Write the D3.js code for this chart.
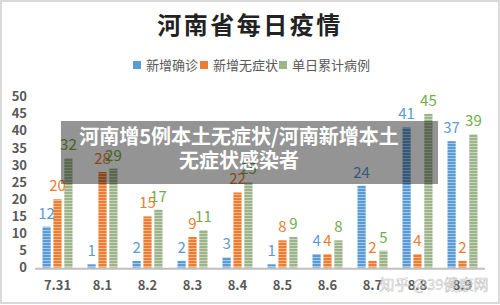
<!DOCTYPE html>
<html>
<head>
<meta charset="utf-8">
<script src="https://cdn.jsdelivr.net/npm/d3@7"></script>
<style>
  body { margin: 0; background: #fff; }
  svg { display: block; font-family: "Noto Sans CJK SC", "Noto Sans", sans-serif; }
</style>
</head>
<body>
<div id="main"></div>
<script>
const categories = ['7.31', '8.1', '8.2', '8.3', '8.4', '8.5', '8.6', '8.7', '8.8', '8.9']
const seriesNames = ['新增确诊', '新增无症状', '单日累计病例']
const newConfirmed = [12, 1, 2, 2, 3, 1, 4, 24, 41, 37]
const newAsymptomatic = [20, 28, 15, 9, 22, 8, 4, 2, 4, 2]
const dailyTotal = [32, 29, 17, 11, 25, 9, 8, 5, 45, 39]
const yTicks = [0, 5, 10, 15, 20, 25, 30, 35, 40, 45, 50]

const ctx = {
    w: 500,
    h: 305,
    barColors: ['#5b9bd5', '#ed7d31', '#9db38a'],
    labelColors: ['#5b9bd5', '#ed7d31', '#70ad47']
}

function createViz() {
    let svg = d3.select('#main').append('svg')
        .attr('width', ctx.w)
        .attr('height', ctx.h)

    // frame
    svg.append('rect')
        .attr('x', 1).attr('y', 1)
        .attr('width', ctx.w - 2).attr('height', ctx.h - 3)
        .attr('fill', '#fff')
        .attr('stroke', '#d9d9d9')
        .attr('stroke-width', 2)

    // striped fills
    let defs = svg.append('defs')
    ctx.barColors.forEach((c, i) => {
        let p = defs.append('pattern')
            .attr('id', 'stripe' + i)
            .attr('patternUnits', 'userSpaceOnUse')
            .attr('width', 10).attr('height', 3)
        p.append('rect').attr('width', 10).attr('height', 3).attr('fill', c)
        p.append('rect').attr('y', 2).attr('width', 10).attr('height', 1)
            .attr('fill', '#fff').attr('opacity', 0.45)
    })

    // title
    svg.append('text')
        .attr('x', 250).attr('y', 34)
        .attr('text-anchor', 'middle')
        .attr('font-size', 24)
        .attr('font-weight', 'bold')
        .attr('letter-spacing', 2.5)
        .attr('fill', '#222')
        .text('河南省每日疫情')

    // legend
    let legendX = [133, 200, 279]
    let legend = svg.append('g')
    seriesNames.forEach((name, i) => {
        legend.append('rect')
            .attr('x', legendX[i]).attr('y', 61)
            .attr('width', 8).attr('height', 8)
            .attr('fill', ctx.barColors[i])
        legend.append('text')
            .attr('x', legendX[i] + 13).attr('y', 70)
            .attr('font-size', 13)
            .attr('fill', '#595959')
            .text(name)
    })

    let x = d3.scaleBand().domain(categories).range([35, 485])
    let y = d3.scaleLinear().domain([0, 50]).range([267.7, 96.7])
    let sub = d3.scaleBand().domain([0, 1, 2]).range([7.5, 37.5]).paddingInner(0.25)

    // y tick labels
    svg.append('g').selectAll('text')
        .data(yTicks)
        .join('text')
        .attr('x', 27)
        .attr('y', d => y(d))
        .attr('dy', '0.35em')
        .attr('text-anchor', 'end')
        .attr('font-size', 13)
        .attr('font-weight', 'bold')
        .attr('fill', '#595959')
        .text(d => d)

    let series = [newConfirmed, newAsymptomatic, dailyTotal]
    let rows = []
    series.forEach((vals, s) => {
        vals.forEach((v, i) => rows.push({ s: s, cat: categories[i], v: v }))
    })

    let plot = svg.append('g')
    plot.selectAll('rect')
        .data(rows)
        .join('rect')
        .attr('x', d => x(d.cat) + sub(d.s))
        .attr('y', d => y(d.v))
        .attr('width', sub.bandwidth())
        .attr('height', d => y(0) - y(d.v))
        .attr('fill', d => 'url(#stripe' + d.s + ')')

    plot.selectAll('text')
        .data(rows)
        .join('text')
        .attr('x', d => x(d.cat) + sub(d.s) + sub.bandwidth() / 2)
        .attr('y', d => y(d.v) - 8)
        .attr('text-anchor', 'middle')
        .attr('font-size', 15)
        .attr('fill', d => ctx.labelColors[d.s])
        .text(d => d.v)

    // baseline
    svg.append('line')
        .attr('x1', 35).attr('x2', 485)
        .attr('y1', y(0) + 1).attr('y2', y(0) + 1)
        .attr('stroke', '#bfbfbf')
        .attr('stroke-width', 2)

    // category labels
    svg.append('g').selectAll('text')
        .data(categories)
        .join('text')
        .attr('x', d => x(d) + x.bandwidth() / 2)
        .attr('y', 290)
        .attr('text-anchor', 'middle')
        .attr('font-size', 13)
        .attr('font-weight', 'bold')
        .attr('fill', '#595959')
        .text(d => d)

    // watermark
    svg.append('text')
        .attr('x', 434).attr('y', 290)
        .attr('text-anchor', 'middle')
        .attr('font-size', 15)
        .attr('fill', '#fff')
        .attr('fill-opacity', 0.6)
        .attr('stroke', '#999')
        .attr('stroke-width', 0.6)
        .attr('stroke-opacity', 0.6)
        .text('知乎 @39健康网')

    // headline banner
    svg.append('rect')
        .attr('x', 61).attr('y', 121)
        .attr('width', 377).attr('height', 63)
        .attr('fill', '#000')
        .attr('opacity', 0.42)
    let banner = svg.append('text')
        .attr('text-anchor', 'middle')
        .attr('font-size', 20)
        .attr('font-weight', 'bold')
        .attr('fill', '#fff')
    banner.append('tspan').attr('x', 239).attr('y', 144).text('河南增5例本土无症状/河南新增本土')
    banner.append('tspan').attr('x', 239).attr('y', 168).text('无症状感染者')
}

createViz()
</script>
</body>
</html>
